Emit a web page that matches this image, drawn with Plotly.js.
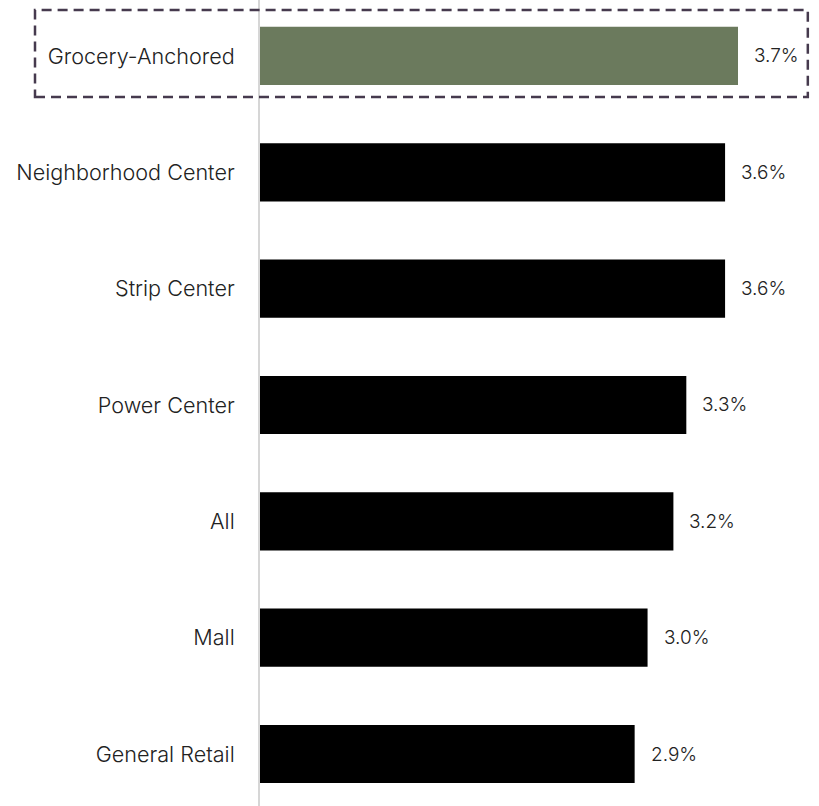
<!DOCTYPE html>
<html>
<head>
<meta charset="utf-8">
<script src="https://cdn.plot.ly/plotly-3.0.1.min.js"></script>
<style>
  html, body { margin: 0; padding: 0; background: #ffffff; }
  #chart { width: 819px; height: 806px; }
</style>
</head>
<body>
<div id="chart"></div>
<script>
// Data
const categories = ["Grocery-Anchored", "Neighborhood Center", "Strip Center", "Power Center", "All", "Mall", "General Retail"];
const values = [3.7, 3.6, 3.6, 3.3, 3.2, 3.0, 2.9];
const valueLabels = ["3.7%", "3.6%", "3.6%", "3.3%", "3.2%", "3.0%", "2.9%"];
const highlightCategory = "Grocery-Anchored";

const barColors = categories.map(c => c === highlightCategory ? "#6b7a5d" : "#000000");

const trace = {
  type: "bar",
  orientation: "h",
  x: values,
  y: categories,
  width: 0.5,
  marker: { color: barColors, line: { width: 0 } },
  hoverinfo: "none",
  showlegend: false
};

const FONT = "Inter, Roboto, 'Open Sans', Arial, sans-serif";

const annotations = categories.map((c, i) => ({
  x: values[i],
  y: c,
  xref: "x",
  yref: "y",
  text: valueLabels[i],
  showarrow: false,
  xanchor: "left",
  yanchor: "middle",
  xshift: 14,
  font: { family: FONT, size: 19, weight: 300, color: "#222222" }
}));

const layout = {
  width: 819,
  height: 806,
  margin: { l: 260, r: 0, t: 0, b: 0, pad: 0 },
  paper_bgcolor: "#ffffff",
  plot_bgcolor: "#ffffff",
  bargap: 0.5,
  xaxis: {
    range: [0, 4.327],
    showgrid: false,
    zeroline: false,
    showline: false,
    showticklabels: false,
    ticks: "",
    fixedrange: true
  },
  yaxis: {
    type: "category",
    categoryorder: "array",
    categoryarray: categories,
    range: [6.447, -0.481],
    showgrid: false,
    zeroline: false,
    showline: true,
    linecolor: "#d6d6d6",
    linewidth: 2,
    ticks: "",
    ticklabelstandoff: 19,
    tickfont: { family: FONT, size: 21.6, weight: 300, color: "#222222" },
    fixedrange: true
  },
  annotations: annotations,
  shapes: [{
    type: "rect",
    xref: "paper",
    yref: "paper",
    x0: -0.4025,
    x1: 0.980,
    y0: 0.8797,
    y1: 0.9876,
    line: { color: "#463a4e", width: 2.5, dash: "10px,6px" },
    fillcolor: "rgba(0,0,0,0)",
    layer: "above"
  }]
};

Plotly.newPlot("chart", [trace], layout, { displayModeBar: false, staticPlot: true });
</script>
</body>
</html>
